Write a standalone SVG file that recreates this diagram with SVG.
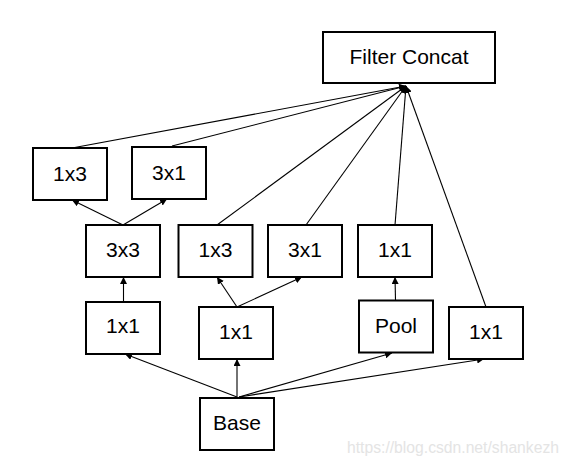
<svg xmlns="http://www.w3.org/2000/svg" width="568" height="465" viewBox="0 0 568 465">
<style>
.box{fill:#fff;stroke:#000;stroke-width:2}
.lbl{font-family:"Liberation Sans",Arial,sans-serif;font-size:21px;fill:#000;text-anchor:middle}
.ln{stroke:#000;stroke-width:1.1;fill:none}
.arr{marker-end:url(#ah)}
.wm{font-family:"Liberation Sans",Arial,sans-serif;font-size:16px;fill:#e4e4e4}
</style>
<defs>
<marker id="ah" viewBox="0 0 10 10" refX="10" refY="5" markerWidth="7" markerHeight="7" markerUnits="userSpaceOnUse" orient="auto">
<path d="M0,0 L10,5 L0,10 z" fill="#000"/>
</marker>
</defs>
<rect width="568" height="465" fill="#fff"/>
<g id="connectors">
<line class="ln arr" x1="72" y1="148" x2="406" y2="86"/>
<line class="ln arr" x1="172" y1="146" x2="406" y2="86"/>
<line class="ln arr" x1="217" y1="225" x2="406" y2="86"/>
<line class="ln arr" x1="306" y1="225" x2="406" y2="86"/>
<line class="ln arr" x1="395" y1="225" x2="406" y2="86"/>
<line class="ln arr" x1="486" y1="307" x2="406" y2="86"/>
<line class="ln arr" x1="123" y1="225" x2="72" y2="200"/>
<line class="ln arr" x1="123" y1="225" x2="167" y2="199"/>
<line class="ln arr" x1="123.5" y1="302" x2="123.5" y2="277"/>
<line class="ln arr" x1="237" y1="307" x2="217" y2="277"/>
<line class="ln arr" x1="237" y1="307" x2="302" y2="277"/>
<line class="ln arr" x1="395.5" y1="300" x2="395" y2="277"/>
<line class="ln arr" x1="237" y1="397" x2="125" y2="354"/>
<line class="ln arr" x1="237" y1="397" x2="237" y2="359"/>
<line class="ln arr" x1="239" y1="397" x2="392" y2="353"/>
<line class="ln arr" x1="239" y1="397" x2="484" y2="359"/>
</g>
<g id="filter-concat"><rect class="box" x="323" y="32" width="172" height="51"/><text class="lbl" x="409" y="64" font-size="22">Filter Concat</text></g>
<g id="n-1x3-top"><rect class="box" x="33" y="148" width="74" height="52"/><text class="lbl" x="70" y="181">1x3</text></g>
<g id="n-3x1-top"><rect class="box" x="132" y="147" width="74" height="52"/><text class="lbl" x="169" y="180">3x1</text></g>
<g id="n-3x3"><rect class="box" x="86" y="225" width="74" height="52"/><text class="lbl" x="123" y="257">3x3</text></g>
<g id="n-1x3-mid"><rect class="box" x="178.5" y="225" width="74" height="52"/><text class="lbl" x="215.5" y="257">1x3</text></g>
<g id="n-3x1-mid"><rect class="box" x="268" y="225" width="74" height="52"/><text class="lbl" x="305" y="257">3x1</text></g>
<g id="n-1x1-pool"><rect class="box" x="358" y="225" width="74" height="52"/><text class="lbl" x="395" y="257">1x1</text></g>
<g id="n-1x1-left"><rect class="box" x="86" y="302" width="74" height="52"/><text class="lbl" x="123" y="333">1x1</text></g>
<g id="n-1x1-mid"><rect class="box" x="199" y="307" width="74" height="52"/><text class="lbl" x="236" y="338.5">1x1</text></g>
<g id="n-pool"><rect class="box" x="359" y="300.5" width="74" height="52"/><text class="lbl" x="396" y="333">Pool</text></g>
<g id="n-1x1-right"><rect class="box" x="449" y="307" width="74" height="52"/><text class="lbl" x="486" y="339">1x1</text></g>
<g id="n-base"><rect class="box" x="200" y="398" width="74" height="52"/><text class="lbl" x="237" y="430">Base</text></g>
<text class="wm" x="347" y="452.5" textLength="212" lengthAdjust="spacingAndGlyphs">https://blog.csdn.net/shankezh</text>
</svg>
